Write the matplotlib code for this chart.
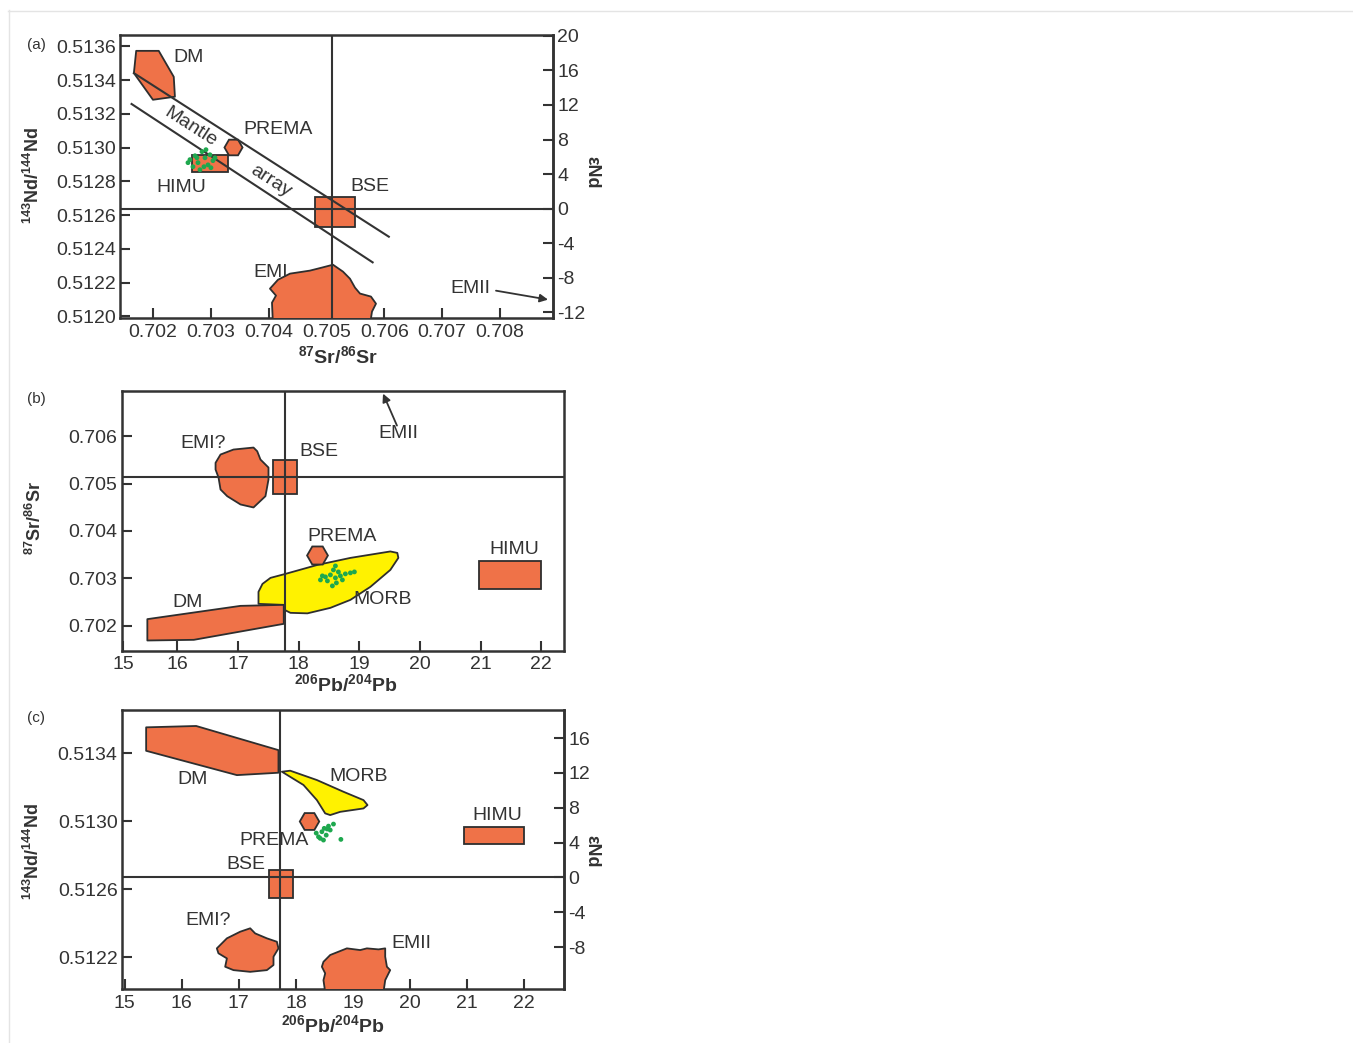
import matplotlib
matplotlib.use('Agg')
import matplotlib.pyplot as plt
from matplotlib.patches import Polygon, Rectangle
from matplotlib.lines import Line2D
import numpy as np

plt.rcParams['font.family'] = ['Liberation Sans', 'DejaVu Sans']
plt.rcParams['mathtext.fontset'] = 'custom'
plt.rcParams['mathtext.rm'] = 'Liberation Sans'
plt.rcParams['mathtext.bf'] = 'Liberation Sans:bold'
plt.rcParams['mathtext.it'] = 'Liberation Sans:italic'
plt.rcParams['axes.unicode_minus'] = False

ORANGE = '#EF7248'
YELLOW = '#FFF200'
GREEN = '#1EA84E'
EDGE = '#2e2e2e'
TXT = '#333333'

# ---------------- Panel (a): 143Nd/144Nd vs 87Sr/86Sr ----------------
a_xlim = (0.70143, 0.70892)
a_ylim = (0.51199, 0.513668)
a_xticks = [0.702, 0.703, 0.704, 0.705, 0.706, 0.707, 0.708]
a_xticklabels = ['0.702', '0.703', '0.704', '0.705', '0.706', '0.707', '0.708']
a_yticks = [0.5120, 0.5122, 0.5124, 0.5126, 0.5128, 0.5130, 0.5132, 0.5134, 0.5136]
a_eps_ticks = [-12, -8, -4, 0, 4, 8, 12, 16, 20]
a_chur = 0.512638
a_bse_sr = 0.7051

a_dm_x = [0.70171, 0.70210, 0.70236, 0.70238, 0.70200, 0.70167]
a_dm_y = [0.513574, 0.513574, 0.513420, 0.513302, 0.513284, 0.513442]
a_himu_box = (0.70267, 0.70330, 0.512857, 0.512958)
a_bse_box = (0.70480, 0.70549, 0.512532, 0.512709)
a_prema = (0.70338, 0.513006)
a_emi_x = [0.704076, 0.704059, 0.704128, 0.704024, 0.704163, 0.704370, 0.704716,
           0.704924, 0.705114, 0.705287, 0.705408, 0.705495, 0.705581, 0.705771,
           0.705858, 0.705789, 0.705754]
a_emi_y = [0.51195, 0.512081, 0.512123, 0.512164, 0.512217, 0.512253, 0.512271,
           0.512289, 0.512306, 0.512265, 0.512223, 0.512170, 0.512135, 0.512117,
           0.512075, 0.512028, 0.51195]
a_array_upper = ([0.70167, 0.70608], [0.513442, 0.512472])
a_array_lower = ([0.70163, 0.70580], [0.513259, 0.512320])
a_samples_x = [0.702640, 0.702727, 0.702779, 0.702848, 0.702900, 0.702952, 0.702692,
               0.702813, 0.702986, 0.703038, 0.702761, 0.702882, 0.703073, 0.702606,
               0.702917, 0.703003]
a_samples_y = [0.512929, 0.512952, 0.512911, 0.512976, 0.512940, 0.512898, 0.512887,
               0.512869, 0.512958, 0.512923, 0.512940, 0.512887, 0.512940, 0.512911,
               0.512988, 0.512881]
a_labels = [('DM', 0.702623, 0.513533), ('PREMA', 0.704163, 0.513106),
            ('HIMU', 0.702484, 0.512763), ('BSE', 0.705754, 0.512769),
            ('EMI', 0.704041, 0.512259), ('EMII', 0.707484, 0.512164)]
a_emii_arrow = ((0.707934, 0.512152), (0.708834, 0.512099))
a_mantle_text = [('Mantle', 0.702657, 0.513124), ('array', 0.704041, 0.512804)]

# ---------------- Panel (b): 87Sr/86Sr vs 206Pb/204Pb ----------------
b_xlim = (15.08, 22.38)
b_ylim = (0.70148, 0.70695)
b_xticks = [15.1, 16, 17, 18, 19, 20, 21, 22]
b_xticklabels = ['15', '16', '17', '18', '19', '20', '21', '22']
b_yticks = [0.702, 0.703, 0.704, 0.705, 0.706]
b_bse_pb = 17.77
b_bse_sr = 0.705133

b_dm_x = [15.503, 17.040, 17.753, 17.753, 16.270, 15.503]
b_dm_y = [0.702141, 0.702421, 0.702442, 0.702042, 0.701705, 0.701691]
b_morb_x = [17.336, 17.336, 17.402, 17.534, 17.781, 18.308, 18.852, 19.511, 19.626,
            19.643, 19.511, 19.181, 18.852, 18.522, 18.143, 17.863, 17.764, 17.748]
b_morb_y = [0.702463, 0.702716, 0.702884, 0.703011, 0.703095, 0.703284, 0.703432,
            0.703568, 0.703537, 0.703432, 0.703179, 0.702821, 0.702547, 0.702379,
            0.702263, 0.702274, 0.702337, 0.702442]
b_emi_x = [16.628, 16.710, 16.924, 17.254, 17.315, 17.369, 17.501, 17.501, 17.451,
           17.254, 17.040, 16.820, 16.710, 16.677, 16.628]
b_emi_y = [0.705436, 0.705611, 0.705716, 0.705758, 0.705680, 0.705505, 0.705337,
           0.705084, 0.704733, 0.704495, 0.704558, 0.704733, 0.704874, 0.705126,
           0.705295]
b_bse_box = (17.572, 17.974, 0.704789, 0.705505)
b_himu_box = (20.965, 21.998, 0.702773, 0.703375)
b_prema = (18.303, 0.703495)
b_samples_x = [18.358, 18.440, 18.522, 18.605, 18.687, 18.769, 18.852, 18.572,
               18.605, 18.621, 18.555, 18.473, 18.720, 18.918, 18.390, 18.654]
b_samples_y = [0.702968, 0.703032, 0.703074, 0.703011, 0.703053, 0.703095, 0.703116,
               0.703179, 0.703263, 0.702905, 0.702842, 0.702947, 0.702968, 0.703137,
               0.703053, 0.703137]
b_labels = [('EMI?', 16.430, 0.705842), ('BSE', 18.325, 0.705674),
            ('EMII', 19.641, 0.706053), ('PREMA', 18.719, 0.703874),
            ('HIMU', 21.553, 0.703600), ('MORB', 19.38, 0.702547),
            ('DM', 16.167, 0.702484)]
b_emii_arrow = ((19.62, 0.706221), (19.39, 0.706895))

# ---------------- Panel (c): 143Nd/144Nd vs 206Pb/204Pb ----------------
c_xlim = (14.95, 22.70)
c_ylim = (0.512014, 0.513655)
c_xticks = [15, 16, 17, 18, 19, 20, 21, 22]
c_yticks = [0.5122, 0.5126, 0.5130, 0.5134]
c_eps_ticks = [-8, -4, 0, 4, 8, 12, 16]
c_chur = 0.51267
c_bse_pb = 17.716

c_dm_x = [15.378, 16.254, 17.695, 17.695, 16.967, 15.378]
c_dm_y = [0.513553, 0.513561, 0.513419, 0.513286, 0.513272, 0.513415]
c_morb_x = [17.755, 17.900, 18.368, 18.834, 19.184, 19.254, 19.184, 18.776, 18.601,
            18.513, 18.368, 18.133, 17.900]
c_morb_y = [0.513292, 0.513298, 0.513243, 0.513174, 0.513125, 0.513096, 0.513076,
            0.513056, 0.513037, 0.513047, 0.513125, 0.513214, 0.513262]
c_emi_x = [16.616, 16.792, 17.025, 17.200, 17.287, 17.492, 17.667, 17.695, 17.608,
           17.608, 17.492, 17.200, 16.907, 16.762, 16.792, 16.644]
c_emi_y = [0.512253, 0.512312, 0.512351, 0.512371, 0.512341, 0.512312, 0.512292,
           0.512253, 0.512204, 0.512155, 0.512125, 0.512115, 0.512125, 0.512145,
           0.512194, 0.512224]
c_emii_x = [18.483, 18.601, 18.893, 19.126, 19.243, 19.447, 19.564, 19.564, 19.594,
            19.651, 19.564, 19.534, 18.513, 18.483, 18.513, 18.455]
c_emii_y = [0.512174, 0.512214, 0.512253, 0.512243, 0.512253, 0.512247, 0.512253,
            0.512204, 0.512145, 0.512125, 0.512066, 0.511996, 0.511996, 0.512066,
            0.512106, 0.512145]
c_bse_box = (17.524, 17.958, 0.512547, 0.512714)
c_himu_box = (20.935, 21.986, 0.512866, 0.512968)
c_prema = (18.221, 0.513002)
c_samples_x = [18.658, 18.571, 18.496, 18.455, 18.396, 18.483, 18.426, 18.601,
               18.531, 18.788, 18.356, 18.548]
c_samples_y = [0.512984, 0.512972, 0.512959, 0.512939, 0.512909, 0.512890, 0.512900,
               0.512949, 0.512919, 0.512894, 0.512931, 0.512955]
c_labels = [('DM', 16.187, 0.513249), ('MORB', 19.091, 0.513266),
            ('HIMU', 21.525, 0.513037), ('PREMA', 17.620, 0.512890),
            ('BSE', 17.130, 0.512749), ('EMI?', 16.466, 0.512414),
            ('EMII', 20.019, 0.512284)]

# ---------------------------------------------------------------------
W, H = 1353, 1043
fig = plt.figure(figsize=(W / 100, H / 100), dpi=100)


def px_rect(l, t, r, b):
    return [l / W, 1 - b / H, (r - l) / W, (b - t) / H]


def style_axes(ax):
    for sp in ax.spines.values():
        sp.set_color('#333333')
        sp.set_linewidth(1.8)
    ax.tick_params(direction='in', length=7, width=1.5, labelsize=14,
                   colors='#333333', labelcolor=TXT)
    ax.tick_params(axis='x', pad=4)
    ax.tick_params(axis='y', pad=3)


def add_poly(ax, xs, ys, fc, z=3):
    ax.add_patch(Polygon(np.column_stack([xs, ys]), closed=True, fc=fc, ec=EDGE,
                         lw=1.3, joinstyle='round', zorder=z))


def add_box(ax, box, z=3):
    x0, x1, y0, y1 = box
    ax.add_patch(Rectangle((x0, y0), x1 - x0, y1 - y0, fc=ORANGE, ec=EDGE,
                           lw=1.3, zorder=z))


def add_prema(ax, pt, size):
    ax.plot([pt[0]], [pt[1]], marker='H', ms=size, mfc=ORANGE, mec=EDGE,
            mew=1.3, ls='none', zorder=4)


def add_labels(ax, labels):
    for t, x, y in labels:
        ax.text(x, y, t, fontsize=14, color=TXT, ha='center', va='center', zorder=6)


def add_samples(ax, xs, ys):
    ax.scatter(xs, ys, s=12, color=GREEN, edgecolors='none', zorder=6)


def add_eps_axis(ax, chur, ticks):
    sec = ax.secondary_yaxis('right', functions=(lambda y: (y / chur - 1) * 1e4,
                                                 lambda e: chur * (1 + e / 1e4)))
    sec.set_yticks(ticks)
    sec.set_yticklabels([str(t) for t in ticks])
    sec.tick_params(direction='in', length=7, width=1.5, labelsize=14,
                    colors='#333333', labelcolor=TXT, pad=3)
    sec.spines['right'].set_linewidth(1.8)
    sec.spines['right'].set_color('#333333')
    return sec


# ---- (a)
axA = fig.add_axes(px_rect(120, 35, 553, 318))
axA.set_xlim(*a_xlim)
axA.set_ylim(*a_ylim)
axA.set_xticks(a_xticks)
axA.set_xticklabels(a_xticklabels)
axA.set_yticks(a_yticks)
axA.set_yticklabels(['%.4f' % v for v in a_yticks])
style_axes(axA)
add_poly(axA, a_dm_x, a_dm_y, ORANGE)
add_box(axA, a_himu_box)
add_box(axA, a_bse_box)
add_poly(axA, a_emi_x, a_emi_y, ORANGE)
add_prema(axA, a_prema, 13)
axA.axhline(a_chur, color='#333333', lw=1.5, zorder=4)
axA.axvline(a_bse_sr, color='#333333', lw=1.5, zorder=4)
for xs, ys in (a_array_upper, a_array_lower):
    axA.plot(xs, ys, color='#333333', lw=1.5, zorder=4)
add_samples(axA, a_samples_x, a_samples_y)
add_labels(axA, a_labels)
p0 = axA.transData.transform((a_array_upper[0][0], a_array_upper[1][0]))
p1 = axA.transData.transform((a_array_upper[0][1], a_array_upper[1][1]))
ang = np.degrees(np.arctan2(p1[1] - p0[1], p1[0] - p0[0]))
for t, x, y in a_mantle_text:
    axA.text(x, y, t, fontsize=14, color=TXT, ha='center', va='center',
             rotation=ang, rotation_mode='anchor', zorder=6)
axA.annotate('', xy=a_emii_arrow[1], xytext=a_emii_arrow[0],
             arrowprops=dict(arrowstyle='-|>', color='#333333', lw=1.3,
                             mutation_scale=12, shrinkA=0, shrinkB=0), zorder=6)
add_eps_axis(axA, a_chur, a_eps_ticks)

# ---- (b)
axB = fig.add_axes(px_rect(121.7, 391, 564.3, 650.5))
axB.set_xlim(*b_xlim)
axB.set_ylim(*b_ylim)
axB.set_xticks(b_xticks)
axB.set_xticklabels(b_xticklabels)
axB.set_yticks(b_yticks)
axB.set_yticklabels(['%.3f' % v for v in b_yticks])
style_axes(axB)
add_poly(axB, b_morb_x, b_morb_y, YELLOW, z=2)
add_poly(axB, b_dm_x, b_dm_y, ORANGE)
add_poly(axB, b_emi_x, b_emi_y, ORANGE)
add_box(axB, b_bse_box)
add_box(axB, b_himu_box)
add_prema(axB, b_prema, 15)
axB.axhline(b_bse_sr, color='#333333', lw=1.5, zorder=4)
axB.axvline(b_bse_pb, color='#333333', lw=1.5, zorder=4)
add_samples(axB, b_samples_x, b_samples_y)
add_labels(axB, b_labels)
axB.annotate('', xy=b_emii_arrow[1], xytext=b_emii_arrow[0],
             arrowprops=dict(arrowstyle='-|>', color='#333333', lw=1.3,
                             mutation_scale=12, shrinkA=0, shrinkB=0), zorder=6)

# ---- (c)
axC = fig.add_axes(px_rect(121.7, 710, 564.3, 989))
axC.set_xlim(*c_xlim)
axC.set_ylim(*c_ylim)
axC.set_xticks(c_xticks)
axC.set_xticklabels([str(v) for v in c_xticks])
axC.set_yticks(c_yticks)
axC.set_yticklabels(['%.4f' % v for v in c_yticks])
style_axes(axC)
add_poly(axC, c_dm_x, c_dm_y, ORANGE)
add_poly(axC, c_morb_x, c_morb_y, YELLOW)
add_poly(axC, c_emi_x, c_emi_y, ORANGE)
add_poly(axC, c_emii_x, c_emii_y, ORANGE)
add_box(axC, c_bse_box)
add_box(axC, c_himu_box)
add_prema(axC, c_prema, 14)
axC.axhline(c_chur, color='#333333', lw=1.5, zorder=4)
axC.axvline(c_bse_pb, color='#333333', lw=1.5, zorder=4)
add_samples(axC, c_samples_x, c_samples_y)
add_labels(axC, c_labels)
add_eps_axis(axC, c_chur, c_eps_ticks)

# ---- figure texts
lab_nd = r'$^{\mathbf{143}}\mathbf{Nd/}^{\mathbf{144}}\mathbf{Nd}$'
lab_sr = r'$^{\mathbf{87}}\mathbf{Sr/}^{\mathbf{86}}\mathbf{Sr}$'
lab_pb = r'$^{\mathbf{206}}\mathbf{Pb/}^{\mathbf{204}}\mathbf{Pb}$'


def ftext(x, y, s, **kw):
    fig.text(x / W, 1 - y / H, s, ha='center', va='center', color=TXT, **kw)


ftext(36, 45, '(a)', fontsize=11)
ftext(36, 399, '(b)', fontsize=11)
ftext(36, 718, '(c)', fontsize=11)
ftext(33, 175, lab_nd, fontsize=13, rotation=90)
ftext(35, 518, lab_sr, fontsize=13, rotation=90)
ftext(33, 851, lab_nd, fontsize=13, rotation=90)
ftext(592, 172, 'εNd', fontsize=13, rotation=-90, fontweight='bold')
ftext(592, 851, 'εNd', fontsize=13, rotation=-90, fontweight='bold')
ftext(338, 356, lab_sr, fontsize=14)
ftext(346, 684, lab_pb, fontsize=14)
ftext(333, 1025, lab_pb, fontsize=14)

# light frame of the original image
fig.add_artist(Line2D([8 / W, 1], [1 - 10.5 / H, 1 - 10.5 / H], color='#e4e4e4', lw=1))
fig.add_artist(Line2D([8.5 / W, 8.5 / W], [0, 1 - 10 / H], color='#e4e4e4', lw=1))

fig.savefig('out.png', dpi=100)
